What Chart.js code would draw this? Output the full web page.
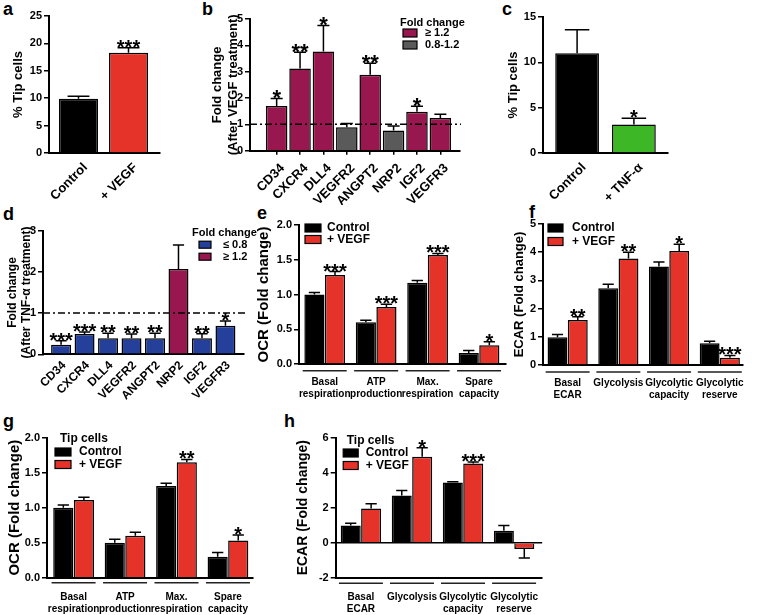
<!DOCTYPE html>
<html>
<head>
<meta charset="utf-8">
<script src="https://cdn.jsdelivr.net/npm/chart.js@4.4.0/dist/chart.umd.min.js"></script>
<style>
  body { margin: 0; background: #fff; }
  #fig { position: relative; width: 757px; height: 615px; overflow: hidden; font-family: "Liberation Sans", Arial, sans-serif; }
  #fig canvas { position: absolute; }
  .letter { position: absolute; font-weight: bold; font-size: 18px; line-height: 18px; }
</style>
</head>
<body>
<div id="fig">
  <div class="letter" style="left:3px;top:0px">a</div>
  <div class="letter" style="left:202px;top:0px">b</div>
  <div class="letter" style="left:502px;top:0px">c</div>
  <div class="letter" style="left:3px;top:205px">d</div>
  <div class="letter" style="left:257px;top:204px">e</div>
  <div class="letter" style="left:529px;top:203px">f</div>
  <div class="letter" style="left:3px;top:412px">g</div>
  <div class="letter" style="left:284px;top:412px">h</div>

  <canvas id="chartA" width="168" height="205" style="left:0px;top:0px"></canvas>
  <canvas id="chartB" width="265" height="205" style="left:203px;top:0px"></canvas>
  <canvas id="chartC" width="257" height="205" style="left:500px;top:0px"></canvas>
  <canvas id="chartD" width="258" height="200" style="left:0px;top:200px"></canvas>
  <canvas id="chartE" width="262" height="200" style="left:250px;top:200px"></canvas>
  <canvas id="chartF" width="252" height="200" style="left:505px;top:200px"></canvas>
  <canvas id="chartG" width="262" height="215" style="left:0px;top:400px"></canvas>
  <canvas id="chartH" width="262" height="215" style="left:290px;top:400px"></canvas>
</div>
<script>
// ---- data ----
// a: tip cells after VEGF
const aLabels = ['Control', '+ VEGF'];
const aValues = [9.9, 18.3];
const aSem = [0.45, 0.9];
const aStars = ['', '***'];

// b: fold change after VEGF treatment
const genes = ['CD34', 'CXCR4', 'DLL4', 'VEGFR2', 'ANGPT2', 'NRP2', 'IGF2', 'VEGFR3'];
const bValues = [1.7, 3.12, 3.77, 0.89, 2.88, 0.77, 1.48, 1.24];
const bSem = [0.28, 0.62, 0.98, 0.14, 0.44, 0.17, 0.21, 0.14];
const bStars = ['*', '**', '*', '', '**', '', '*', ''];
const bGroup = [0, 0, 0, 1, 0, 1, 0, 0];
const bLegend = ['\u2265 1.2', '0.8-1.2'];

// c: tip cells after TNF-alpha
const cLabels = ['Control', '+ TNF-\u03b1'];
const cValues = [11.0, 3.15];
const cSem = [2.6, 0.68];
const cStars = ['', '*'];

// d: fold change after TNF-alpha treatment
const dValues = [0.23, 0.49, 0.39, 0.39, 0.39, 2.07, 0.39, 0.69];
const dSem = [0.1, 0.05, 0.12, 0.1, 0.12, 0.58, 0.11, 0.12];
const dStars = ['***', '***', '**', '**', '**', '', '**', '*'];
const dGroup = [0, 0, 0, 0, 0, 1, 0, 0];
const dLegend = ['\u2264 0.8', '\u2265 1.2'];

// e: OCR
const ocrCats = [['Basal', 'respiration'], ['ATP', 'production'], ['Max.', 'respiration'], ['Spare', 'capacity']];
const eControl = [1.0, 0.6, 1.17, 0.16];
const eControlSem = [0.03, 0.03, 0.03, 0.035];
const eVegf = [1.28, 0.82, 1.57, 0.27];
const eVegfSem = [0.05, 0.04, 0.02, 0.05];
const eStars = ['***', '***', '***', '*'];

// f: ECAR
const ecarCats = [['Basal', 'ECAR'], 'Glycolysis', ['Glycolytic', 'capacity'], ['Glycolytic', 'reserve']];
const fControl = [0.98, 2.72, 3.49, 0.77];
const fControlSem = [0.1, 0.14, 0.16, 0.07];
const fVegf = [1.6, 3.78, 4.04, 0.26];
const fVegfSem = [0.11, 0.22, 0.24, 0.08];
const fStars = ['**', '**', '*', '***'];

// g: OCR, tip cells
const gControl = [1.0, 0.5, 1.31, 0.3];
const gControlSem = [0.04, 0.05, 0.04, 0.06];
const gVegf = [1.11, 0.6, 1.65, 0.53];
const gVegfSem = [0.04, 0.05, 0.04, 0.08];
const gStars = ['', '', '**', '*'];

// h: ECAR, tip cells
const hControl = [0.98, 2.7, 3.44, 0.69];
const hControlSem = [0.13, 0.28, 0.04, 0.29];
const hVegf = [1.95, 4.91, 4.53, -0.36];
const hVegfSem = [0.27, 0.52, 0.08, 0.52];
const hStars = ['', '*', '***', ''];

const seriesNames = ['Control', '+ VEGF'];

// ---- styles ----
const FONT = '"Liberation Sans", Arial, sans-serif';
const BLACK = '#000000';
const RED = '#e5332a';
const CRIMSON = '#99174f';
const GREY = '#5a5a5a';
const BLUE = '#24409b';
const GREEN = '#3db726';

const pts = arr => arr.map((v, i) => ({ x: i, y: v }));

// error bars, significance stars, reference line, group underlines and legends
function makeExtras(cfg) {
  return {
    id: 'extras',
    afterDatasetsDraw(chart) {
      const { ctx, chartArea: area } = chart;
      const x = chart.scales.x, y = chart.scales.y;
      ctx.save();
      ctx.strokeStyle = '#000';
      ctx.fillStyle = '#000';
      ctx.lineWidth = 1.5;

      const tops = [];
      cfg.sem.forEach((sems, di) => {
        const meta = chart.getDatasetMeta(di);
        tops[di] = [];
        meta.data.forEach((bar, i) => {
          const v = chart.data.datasets[di].data[i].y;
          const end = v < 0 ? v - sems[i] : v + sems[i];
          const py = y.getPixelForValue(end);
          tops[di][i] = py;
          const cap = bar.width * 0.28;
          ctx.beginPath();
          ctx.moveTo(bar.x, bar.y);
          ctx.lineTo(bar.x, py);
          ctx.moveTo(bar.x - cap, py);
          ctx.lineTo(bar.x + cap, py);
          ctx.stroke();
        });
      });

      if (cfg.stars) {
        const [di, marks] = cfg.stars;
        const meta = chart.getDatasetMeta(di);
        const size = cfg.starSize || 20;
        ctx.font = 'bold ' + size + 'px ' + FONT;
        ctx.textAlign = 'center';
        ctx.textBaseline = 'alphabetic';
        meta.data.forEach((bar, i) => {
          if (!marks[i]) return;
          ctx.fillText(marks[i], bar.x, tops[di][i] - 2 + 0.4 * size);
        });
      }

      if (cfg.refLine !== undefined) {
        const py = y.getPixelForValue(cfg.refLine);
        ctx.setLineDash([7, 3, 2, 3]);
        ctx.beginPath();
        ctx.moveTo(area.left, py);
        ctx.lineTo(area.right + 1, py);
        ctx.stroke();
        ctx.setLineDash([]);
      }

      if (cfg.underline) {
        const u = cfg.underline;
        ctx.strokeStyle = '#222';
        ctx.beginPath();
        for (let i = 0; i < u.count; i++) {
          const cx = x.getPixelForValue(i);
          ctx.moveTo(cx - u.half, area.bottom + u.dy);
          ctx.lineTo(cx + u.half, area.bottom + u.dy);
        }
        ctx.stroke();
        ctx.strokeStyle = '#000';
      }

      if (cfg.legend) {
        const L = cfg.legend;
        ctx.textAlign = 'left';
        ctx.textBaseline = 'middle';
        ctx.font = 'bold ' + L.size + 'px ' + FONT;
        if (L.title) ctx.fillText(L.title, area.left + L.titleX, area.top + L.titleY);
        L.items.forEach((item, i) => {
          const cy = area.top + L.rows[i];
          ctx.fillStyle = item.color;
          ctx.fillRect(area.left + L.boxX, cy - L.boxH / 2, L.boxW, L.boxH);
          ctx.strokeStyle = '#000';
          ctx.lineWidth = 1.2;
          ctx.strokeRect(area.left + L.boxX, cy - L.boxH / 2, L.boxW, L.boxH);
          ctx.fillStyle = '#000';
          ctx.fillText(item.label, area.left + L.textX, cy);
        });
      }
      ctx.restore();
    }
  };
}

function buildChart(id, p) {
  return new Chart(document.getElementById(id), {
    type: 'bar',
    data: { datasets: p.datasets },
    options: {
      responsive: false,
      animation: false,
      events: [],
      layout: { padding: p.padding, autoPadding: false },
      plugins: { legend: { display: false }, tooltip: { enabled: false } },
      scales: {
        x: {
          type: 'linear',
          offset: false,
          min: p.xMin,
          max: p.xMax,
          afterBuildTicks: s => { s.ticks = p.labels.map((_, i) => ({ value: i })); },
          afterFit: s => { s.height = p.xHeight; },
          grid: {
            offset: false,
            display: !!p.xTickMarks, drawOnChartArea: false, drawTicks: !!p.xTickMarks,
            tickLength: 4, color: '#000', lineWidth: 1.5
          },
          border: { display: true, color: '#000', width: 2 },
          ticks: {
            autoSkip: false,
            minRotation: p.rotate,
            maxRotation: p.rotate,
            padding: p.xPad,
            labelOffset: p.xShift || 0,
            color: '#000',
            font: { family: FONT, weight: 'bold', size: p.xFont, lineHeight: 1.2 },
            callback: v => p.labels[v]
          }
        },
        y: {
          min: p.yMin,
          max: p.yMax,
          afterFit: s => { s.width = p.yWidth; },
          grid: {
            drawOnChartArea: !!p.zeroLine,
            color: ctx => (p.zeroLine && ctx.tick && ctx.tick.value === 0) ? '#000' : 'rgba(0,0,0,0)',
            drawTicks: true,
            tickLength: 5,
            tickColor: '#000',
            lineWidth: 1.5
          },
          border: { display: true, color: '#000', width: 2 },
          ticks: {
            stepSize: p.yStep,
            padding: 2,
            color: '#000',
            font: { family: FONT, weight: 'bold', size: 11 },
            callback: p.yFmt || (v => v)
          },
          title: {
            display: true,
            text: p.yTitle,
            color: '#000',
            font: { family: FONT, weight: 'bold', size: p.titleSize, lineHeight: 1.2 },
            padding: { top: p.titlePad, bottom: 0 }
          }
        }
      }
    },
    plugins: [makeExtras(p.extras)]
  });
}

function bars(values, colors, bp, cp) {
  return { data: pts(values), backgroundColor: colors, borderColor: '#000', borderWidth: 1.5,
           barPercentage: bp, categoryPercentage: cp };
}

function pairSets(ctrl, vegf) {
  return [bars(ctrl, BLACK, 0.98, 0.8), bars(vegf, RED, 0.98, 0.8)];
}

const fmt1 = v => v.toFixed(1);

// a
buildChart('chartA', {
  labels: aLabels,
  datasets: [bars(aValues, [BLACK, RED], 0.78, 1)],
  padding: { left: 0, top: 16, right: 8, bottom: 0 },
  yWidth: 49, xHeight: 52, xMin: -0.59, xMax: 1.63,
  yMin: 0, yMax: 25, yStep: 5,
  yTitle: '% Tip cells', titleSize: 13, titlePad: 11,
  rotate: 45, xFont: 13, xPad: 7, xShift: 7,
  extras: { sem: [aSem], stars: [0, aStars] }
});

// b
buildChart('chartB', {
  labels: genes,
  datasets: [bars(bValues, bGroup.map(g => [CRIMSON, GREY][g]), 0.92, 1)],
  padding: { left: 0, top: 19, right: 8, bottom: 0 },
  yWidth: 47, xHeight: 54.3, xMin: -1.14, xMax: 7.84,
  yMin: 0, yMax: 5, yStep: 1,
  yTitle: ['Fold change', '(After VEGF treatment)'], titleSize: 13, titlePad: 7,
  rotate: 45, xFont: 13, xPad: 6, xShift: 6, xTickMarks: true,
  extras: {
    sem: [bSem], stars: [0, bStars], starSize: 22, refLine: 1,
    legend: { title: 'Fold change', size: 11, titleX: 150, titleY: 4,
              items: bLegend.map((l, i) => ({ label: l, color: [CRIMSON, GREY][i] })),
              boxX: 153, boxW: 14, boxH: 8, rows: [14, 26], textX: 175 }
  }
});

// c
buildChart('chartC', {
  labels: cLabels,
  datasets: [bars(cValues, [BLACK, GREEN], 0.77, 1)],
  padding: { left: 0, top: 17, right: 89, bottom: 0 },
  yWidth: 43, xHeight: 52, xMin: -0.6, xMax: 1.6,
  yMin: 0, yMax: 15, yStep: 5,
  yTitle: '% Tip cells', titleSize: 13, titlePad: 6,
  rotate: 45, xFont: 13, xPad: 7, xShift: 7,
  extras: { sem: [cSem], stars: [0, cStars] }
});

// d
buildChart('chartD', {
  labels: genes,
  datasets: [bars(dValues, dGroup.map(g => [BLUE, CRIMSON][g]), 0.85, 1)],
  padding: { left: 0, top: 30.7, right: 14, bottom: 0 },
  yWidth: 43, xHeight: 45.7, xMin: -0.77, xMax: 7.79,
  yMin: 0, yMax: 3, yStep: 1,
  yTitle: ['Fold change', '(After TNF-\u03b1 treatment)'], titleSize: 12, titlePad: 5,
  rotate: 45, xFont: 12, xPad: 4, xShift: 3,
  extras: {
    sem: [dSem], stars: [0, dStars], starSize: 20, refLine: 1,
    legend: { title: 'Fold change', size: 11, titleX: 149, titleY: 2.3,
              items: dLegend.map((l, i) => ({ label: l, color: [BLUE, CRIMSON][i] })),
              boxX: 156, boxW: 12, boxH: 7, rows: [14, 26], textX: 180 }
  }
});

// e
buildChart('chartE', {
  labels: ocrCats,
  datasets: pairSets(eControl, eVegf),
  padding: { left: 0, top: 25, right: 2, bottom: 0 },
  yWidth: 49, xHeight: 36, xMin: -0.5, xMax: 3.52,
  yMin: 0, yMax: 2, yStep: 0.5, yFmt: fmt1,
  yTitle: 'OCR (Fold change)', titleSize: 15, titlePad: 4.5,
  rotate: 0, xFont: 10, xPad: 12.7,
  extras: {
    sem: [eControlSem, eVegfSem], stars: [1, eStars],
    underline: { count: 4, half: 22, dy: 6.7 },
    legend: { size: 12, items: seriesNames.map((l, i) => ({ label: l, color: [BLACK, RED][i] })),
              boxX: 6, boxW: 16, boxH: 8, rows: [3, 14.5], textX: 28 }
  }
});

// f
buildChart('chartF', {
  labels: ecarCats,
  datasets: pairSets(fControl, fVegf),
  padding: { left: 0, top: 24, right: 7, bottom: 0 },
  yWidth: 38, xHeight: 35, xMin: -0.486, xMax: 3.46,
  yMin: 0, yMax: 5, yStep: 1,
  yTitle: 'ECAR (Fold change)', titleSize: 13, titlePad: 6.7,
  rotate: 0, xFont: 10, xPad: 12.5,
  extras: {
    sem: [fControlSem, fVegfSem], stars: [1, fStars],
    underline: { count: 4, half: 22, dy: 7 },
    legend: { size: 12, items: seriesNames.map((l, i) => ({ label: l, color: [BLACK, RED][i] })),
              boxX: 5, boxW: 15, boxH: 8, rows: [4, 17.5], textX: 29 }
  }
});

// g
buildChart('chartG', {
  labels: ocrCats,
  datasets: pairSets(gControl, gVegf),
  padding: { left: 0, top: 37.7, right: 6, bottom: 0 },
  yWidth: 47, xHeight: 37.3, xMin: -0.517, xMax: 3.49,
  yMin: 0, yMax: 2, yStep: 0.5, yFmt: fmt1,
  yTitle: 'OCR (Fold change)', titleSize: 15, titlePad: 6,
  rotate: 0, xFont: 10, xPad: 13.3,
  extras: {
    sem: [gControlSem, gVegfSem], stars: [1, gStars],
    underline: { count: 4, half: 22, dy: 5 },
    legend: { title: 'Tip cells', size: 12, titleX: 13, titleY: 1.3,
              items: seriesNames.map((l, i) => ({ label: l, color: [BLACK, RED][i] })),
              boxX: 8, boxW: 16, boxH: 8, rows: [14.3, 26.8], textX: 32 }
  }
});

// h
buildChart('chartH', {
  labels: ecarCats,
  datasets: pairSets(hControl, hVegf),
  padding: { left: 0, top: 37.7, right: 5.3, bottom: 0 },
  yWidth: 45.7, xHeight: 37.3, xMin: -0.494, xMax: 3.55,
  yMin: -2, yMax: 6, yStep: 2, zeroLine: true,
  yTitle: 'ECAR (Fold change)', titleSize: 14, titlePad: 5.1,
  rotate: 0, xFont: 10, xPad: 13.3,
  extras: {
    sem: [hControlSem, hVegfSem], stars: [1, hStars],
    underline: { count: 4, half: 22, dy: 5.6 },
    legend: { title: 'Tip cells', size: 12, titleX: 11, titleY: 3,
              items: seriesNames.map((l, i) => ({ label: l, color: [BLACK, RED][i] })),
              boxX: 7.5, boxW: 15, boxH: 8, rows: [15.3, 27.8], textX: 30 }
  }
});
</script>
</body>
</html>
